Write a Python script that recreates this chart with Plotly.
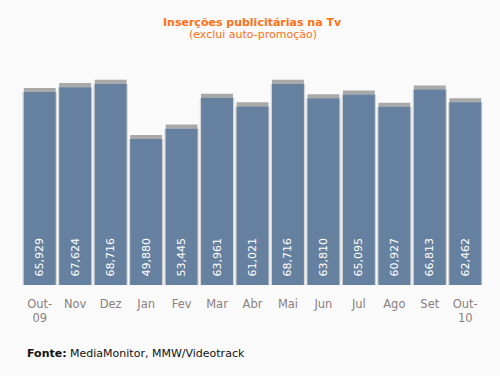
import plotly.graph_objects as go

categories = ["Out-<br>09", "Nov", "Dez", "Jan", "Fev", "Mar", "Abr", "Mai", "Jun", "Jul", "Ago", "Set", "Out-<br>10"]
values = [65929, 67624, 68716, 49880, 53445, 63961, 61021, 68716, 63810, 65095, 60927, 66813, 62462]

FONT = "DejaVu Sans"
top_shadow = [v + 1400 for v in values]

fig = go.Figure()
fig.add_trace(go.Bar(
    x=categories, y=top_shadow, width=0.9,
    marker=dict(color="#a9a9a9", line=dict(width=0)),
    hoverinfo="skip", showlegend=False,
))
fig.add_trace(go.Bar(
    x=categories, y=values, width=0.97,
    marker=dict(color="#d4d4d4", line=dict(width=0)),
    hoverinfo="skip", showlegend=False,
))
fig.add_trace(go.Bar(
    x=categories, y=values, width=0.9,
    marker=dict(color="#66819f", line=dict(width=0)),
    texttemplate="\u2002%{y:,}", textposition="inside", insidetextanchor="start",
    textangle=-90, textfont=dict(color="white", size=11, family=FONT),
    showlegend=False,
))
fig.update_layout(
    width=500, height=376,
    barmode="overlay",
    paper_bgcolor="#fafafa", plot_bgcolor="#fafafa",
    margin=dict(l=22, r=17, t=60, b=91),
    xaxis=dict(showgrid=False, showline=False, ticks="", ticklabelstandoff=10,
               tickfont=dict(color="#8a8080", size=11.5, family=FONT)),
    yaxis=dict(visible=False, range=[0, 76900]),
    uniformtext=dict(minsize=8, mode="show"),
)
fig.add_annotation(text="<b>Inserções publicitárias na Tv</b>", xref="paper", yref="paper",
                   x=0.5, y=1 + (60 - 22) / 225, showarrow=False, xanchor="center", yanchor="middle",
                   font=dict(color="#ff7015", size=11, family=FONT))
fig.add_annotation(text="(exclui auto-promoção)", xref="paper", yref="paper",
                   x=0.5, y=1 + (60 - 35) / 225, showarrow=False, xanchor="center", yanchor="middle",
                   font=dict(color="#ff7015", size=11, family=FONT))
fig.add_annotation(text="<b>Fonte:</b> MediaMonitor, MMW/Videotrack", xref="paper", yref="paper",
                   x=(25 - 22) / 461, y=-(353 - 285) / 225, showarrow=False, xanchor="left", yanchor="middle",
                   font=dict(color="#111111", size=11, family=FONT))
fig.write_html("out.html", config={"displayModeBar": False},
               post_script="document.body.style.margin='0';document.body.style.background='#fafafa';")
